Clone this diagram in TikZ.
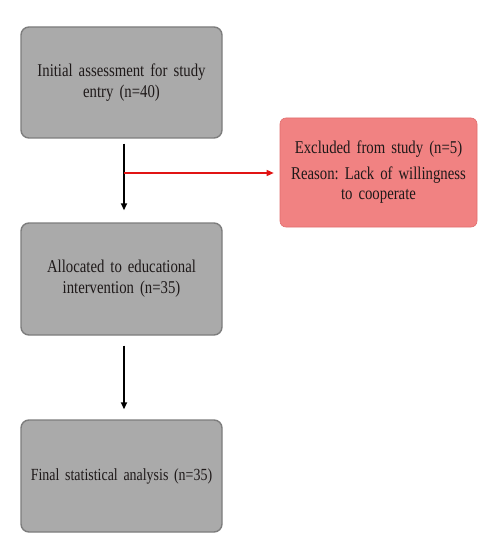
\documentclass[tikz,border=0pt]{standalone}
\usepackage{fontspec}
\setmainfont{Liberation Serif}[FakeStretch=0.82, WordSpace=0.8]
\usetikzlibrary{arrows.meta}
\definecolor{boxgray}{RGB}{170,170,170}
\definecolor{boxedge}{RGB}{125,125,125}
\definecolor{exfill}{RGB}{241,130,130}
\definecolor{exedge}{RGB}{225,110,110}
\definecolor{txt}{RGB}{30,25,25}
\definecolor{redline}{RGB}{225,20,20}
\tikzset{
  graybox/.style={draw=boxedge, line width=1.4pt, fill=boxgray, rounded corners=8pt,
    minimum width=201pt, minimum height=111pt, text width=200pt, align=center,
    inner sep=0pt, font=\fontsize{18pt}{21pt}\selectfont, text=txt},
  redbox/.style={draw=exedge, line width=0.6pt, fill=exfill, rounded corners=6pt,
    minimum width=197pt, minimum height=109pt, text width=196pt, align=center,
    inner sep=0pt, font=\fontsize{18pt}{20pt}\selectfont, text=txt},
  flowarrow/.style={line width=1.6pt, black, -{Triangle[length=7pt,width=6pt]}},
  exarrow/.style={line width=1.4pt, redline, -{Triangle[length=7pt,width=6pt]}}
}
\begin{document}
\frenchspacing
\begin{tikzpicture}[x=1pt,y=1pt]
\useasboundingbox[fill=white] (0,0) rectangle (479,-545);
\node[graybox] (init) at (121.5,-82.5) {Initial assessment for study\\entry (n=40)};
\node[graybox, minimum height=112pt] (alloc) at (121.5,-279) {Allocated to educational\\intervention (n=35)};
\node[graybox, minimum height=112pt, font=\fontsize{17pt}{21pt}\selectfont] (final) at (121.5,-476) {Final statistical analysis (n=35)};
\node[redbox] (excl) at (378.5,-172.5) {Excluded from study (n=5)\\[6pt]Reason: Lack of willingness\\to cooperate};
\coordinate (br) at (124,-173);
\draw[flowarrow, shorten <=5pt, shorten >=12pt] ([xshift=2.5pt]init.south) -- ([xshift=2.5pt]alloc.north);
\draw[flowarrow, shorten <=10pt, shorten >=10pt] ([xshift=2.5pt]alloc.south) -- ([xshift=2.5pt]final.north);
\draw[exarrow, shorten >=6pt] (br) -- (br -| excl.west);
\end{tikzpicture}
\end{document}
